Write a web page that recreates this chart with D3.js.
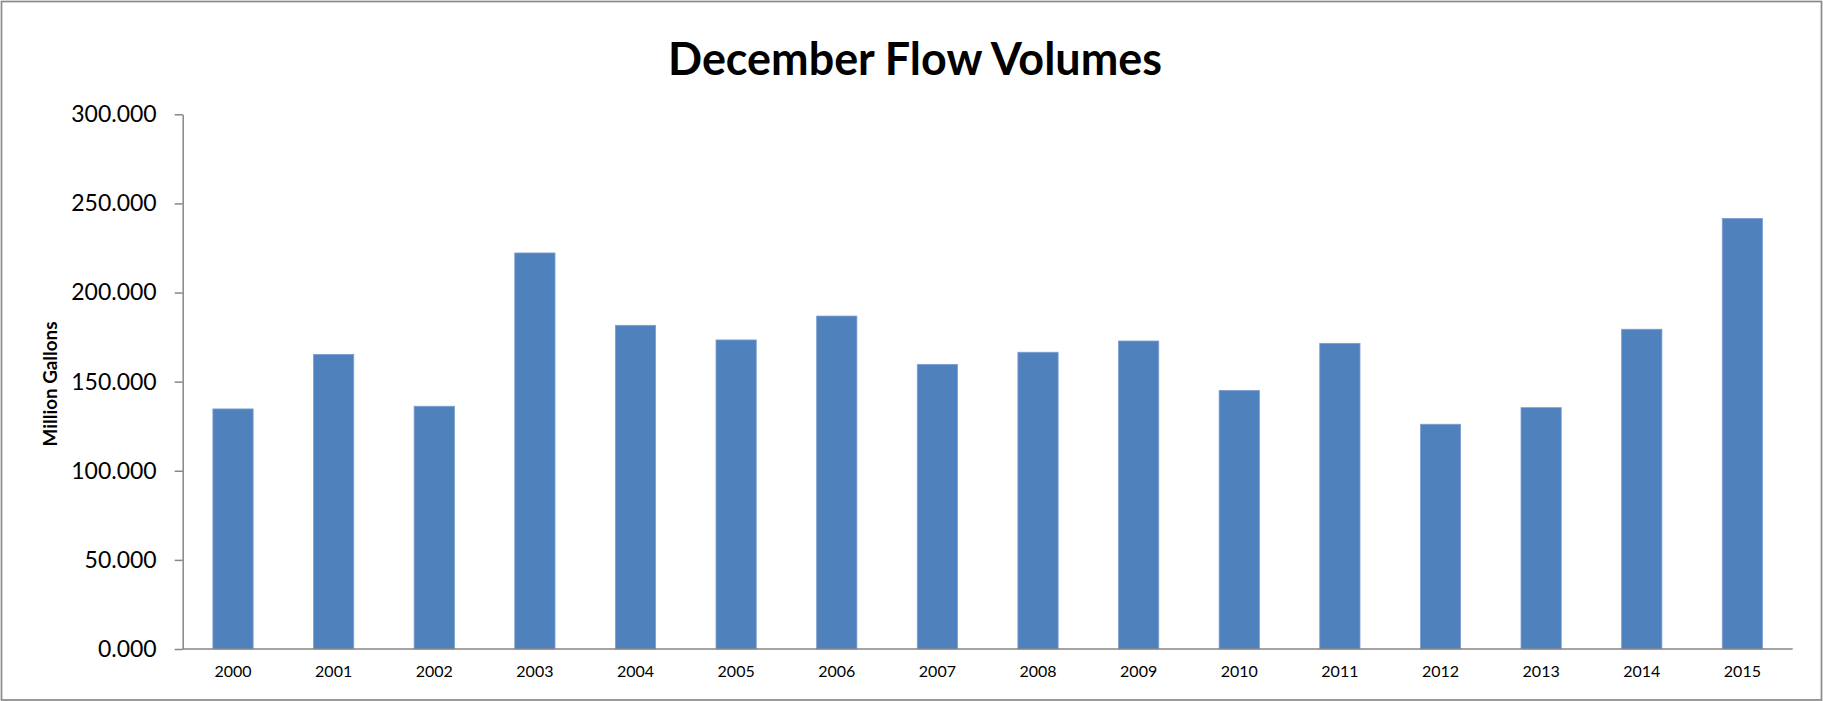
<!DOCTYPE html>
<html>
<head>
<meta charset="utf-8">
<script src="https://cdn.jsdelivr.net/npm/d3@7"></script>
<style>
  html, body { margin: 0; padding: 0; background: #fff; }
  svg { display: block; }
</style>
</head>
<body>
<svg id="chart" width="1823" height="701"></svg>
<script>
// ---- data ----
const years = ["2000","2001","2002","2003","2004","2005","2006","2007","2008","2009","2010","2011","2012","2013","2014","2015"];
const flowVolumes = [134.7,165.3,136.2,222.2,181.6,173.4,186.8,159.7,166.5,172.8,145.1,171.5,126.1,135.4,179.4,241.6];
const yTicks = [0,50,100,150,200,250,300];
const chartTitle = "December Flow Volumes";
const yAxisTitle = "Million Gallons";

// ---- layout ----
const W = 1823, H = 701;
const plot = { left: 182.7, right: 1792.7, top: 114.3, bottom: 649 };
const FONT = "Lato, 'Open Sans', 'Liberation Sans', sans-serif";

const svg = d3.select("#chart");

// outer border
svg.append("rect")
  .attr("x", 1.5).attr("y", 1.5)
  .attr("width", W - 3).attr("height", H - 2.5)
  .attr("fill", "#fff").attr("stroke", "#8c8c8c").attr("stroke-width", 1.75);

const x = d3.scaleBand()
  .domain(years)
  .range([plot.left, plot.right])
  .paddingInner(0.6)
  .paddingOuter(0.3);

const y = d3.scaleLinear()
  .domain([0, 300])
  .range([plot.bottom, plot.top]);

const data = years.map((yr, i) => ({ year: yr, value: flowVolumes[i] }));

// bars
svg.append("g")
  .selectAll("rect")
  .data(data)
  .join("rect")
  .attr("x", d => x(d.year))
  .attr("y", d => y(d.value))
  .attr("width", x.bandwidth())
  .attr("height", d => y(0) - y(d.value))
  .attr("fill", "#4f81bd")
  .attr("stroke", "#7d9fd0")
  .attr("stroke-width", 0.8);

// y axis
const yAxis = svg.append("g")
  .attr("transform", `translate(${plot.left},0)`)
  .call(d3.axisLeft(y).tickValues(yTicks).tickFormat(d3.format(".3f")).tickSize(8).tickSizeOuter(0).tickPadding(18));
yAxis.select(".domain").attr("stroke", "#868686").attr("stroke-width", 1.5);
yAxis.selectAll(".tick line").attr("stroke", "#868686").attr("stroke-width", 1.5);
yAxis.selectAll(".tick text")
  .attr("fill", "#000")
  .style("font-family", FONT)
  .style("font-size", "23px");

// x axis
const xAxis = svg.append("g")
  .attr("transform", `translate(0,${plot.bottom})`)
  .call(d3.axisBottom(x).tickSize(0).tickSizeOuter(0).tickPadding(17));
xAxis.select(".domain").attr("stroke", "#868686").attr("stroke-width", 1.5)
  .attr("d", `M${plot.left},0H${plot.right}`);
xAxis.selectAll(".tick text")
  .attr("fill", "#000")
  .style("font-family", FONT)
  .style("font-size", "16px");

// helper: fit text to a target width
function fitWidth(sel, target) {
  const node = sel.node();
  const fs = parseFloat(sel.style("font-size"));
  const w = node.getComputedTextLength();
  if (w > 0) sel.style("font-size", (fs * target / w) + "px");
}

// title
const title = svg.append("text")
  .attr("x", 915).attr("y", 75)
  .attr("text-anchor", "middle")
  .style("font-family", FONT)
  .style("font-weight", "bold")
  .style("font-size", "44px")
  .attr("fill", "#000")
  .text(chartTitle);
fitWidth(title, 494);

// y axis title
const yt = svg.append("text")
  .attr("transform", `translate(57,384) rotate(-90)`)
  .attr("text-anchor", "middle")
  .style("font-family", FONT)
  .style("font-weight", "bold")
  .style("font-size", "17px")
  .attr("fill", "#000")
  .text(yAxisTitle);
fitWidth(yt, 125);
</script>
</body>
</html>
